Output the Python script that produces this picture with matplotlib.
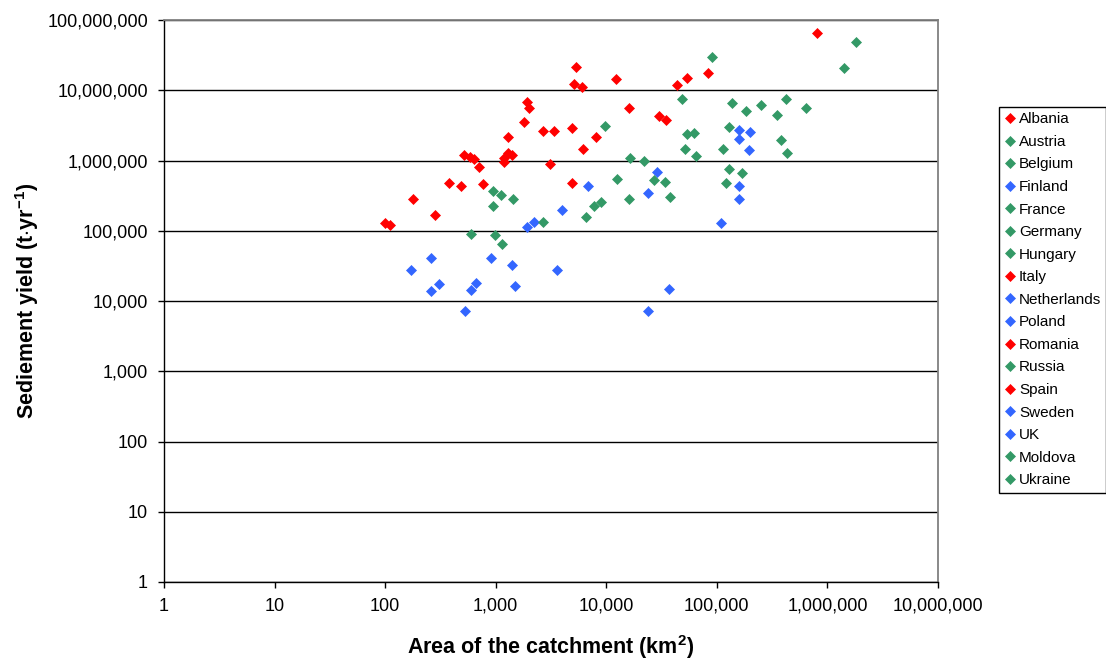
import numpy as np
import matplotlib
matplotlib.use('Agg')
import matplotlib.pyplot as plt
from matplotlib.ticker import FixedLocator, FuncFormatter, NullLocator

plt.rcParams['font.family'] = ['Liberation Sans', 'DejaVu Sans']
plt.rcParams['mathtext.fontset'] = 'custom'
plt.rcParams['mathtext.rm'] = 'Liberation Sans'
plt.rcParams['mathtext.bf'] = 'Liberation Sans:bold'

red = '#FF0000'
green = '#339966'
blue = '#3366FF'

# catchment area (km2) and sediment yield (t/yr) per country
albania_area = [5300, 5100, 6000, 12200, 1900, 2000, 1800]
albania_sy = [21.5e6, 12.3e6, 11.1e6, 14.3e6, 6.7e6, 5.5e6, 3.5e6]

austria_area = [1420, 940, 600, 990]
austria_sy = [280e3, 225e3, 89e3, 88e3]

belgium_area = [1140]
belgium_sy = [65e3]

finland_area = [4000, 2200, 1900, 3600]
finland_sy = [200e3, 133e3, 112e3, 28e3]

france_area = [7800, 9000, 6600, 2700, 940, 1120]
france_sy = [225e3, 255e3, 157e3, 135e3, 370e3, 320e3]

germany_area = [9700, 16400, 22000, 12400, 38000, 16000]
germany_sy = [3.1e6, 1.09e6, 975e3, 550e3, 300e3, 283e3]

hungary_area = [90000, 48000, 54000, 62000, 51000, 65000]
hungary_sy = [30e6, 7.5e6, 2.4e6, 2.45e6, 1.45e6, 1.16e6]

italy_area = [2700, 3400, 4900, 8000, 1300, 6100, 1290, 1400, 1200, 1180, 3100, 4850]
italy_sy = [2.65e6, 2.65e6, 2.9e6, 2.15e6, 2.15e6, 1.45e6, 1.28e6, 1.19e6, 1.07e6, 940e3, 890e3, 475e3]

netherlands_area = [1500, 530]
netherlands_sy = [16.2e3, 7.3e3]

poland_area = [160e3, 200e3, 160e3, 195e3, 160e3, 160e3, 109e3]
poland_sy = [2.7e6, 2.55e6, 2.0e6, 1.4e6, 440e3, 283e3, 130e3]

romania_area = [800e3, 84000, 54000, 44000, 35000, 30000, 16000]
romania_sy = [66e6, 17.4e6, 14.8e6, 11.9e6, 3.75e6, 4.3e6, 5.6e6]

russia_area = [1.8e6, 1.4e6, 640e3, 420e3, 350e3, 430e3, 380e3]
russia_sy = [49e6, 20.5e6, 5.65e6, 7.4e6, 4.45e6, 1.27e6, 1.95e6]

spain_area = [520, 590, 640, 700, 380, 490, 770, 180, 280, 100, 110]
spain_sy = [1.2e6, 1.13e6, 1.06e6, 820e3, 480e3, 435e3, 460e3, 280e3, 166e3, 128e3, 119e3]

sweden_area = [29000, 24000, 37000, 24000, 6800]
sweden_sy = [690e3, 350e3, 14.7e3, 7.3e3, 435e3]

uk_area = [260, 170, 910, 1400, 310, 260, 670, 600]
uk_sy = [41e3, 27.5e3, 41e3, 33e3, 17.6e3, 13.7e3, 18e3, 14.2e3]

moldova_area = [27000, 34000]
moldova_sy = [530e3, 500e3]

ukraine_area = [250e3, 182e3, 138e3, 130e3, 114e3, 170e3, 130e3, 120e3]
ukraine_sy = [6.1e6, 5.1e6, 6.65e6, 2.95e6, 1.47e6, 670e3, 765e3, 480e3]

series = [
    ('Albania', albania_area, albania_sy, red),
    ('Austria', austria_area, austria_sy, green),
    ('Belgium', belgium_area, belgium_sy, green),
    ('Finland', finland_area, finland_sy, blue),
    ('France', france_area, france_sy, green),
    ('Germany', germany_area, germany_sy, green),
    ('Hungary', hungary_area, hungary_sy, green),
    ('Italy', italy_area, italy_sy, red),
    ('Netherlands', netherlands_area, netherlands_sy, blue),
    ('Poland', poland_area, poland_sy, blue),
    ('Romania', romania_area, romania_sy, red),
    ('Russia', russia_area, russia_sy, green),
    ('Spain', spain_area, spain_sy, red),
    ('Sweden', sweden_area, sweden_sy, blue),
    ('UK', uk_area, uk_sy, blue),
    ('Moldova', moldova_area, moldova_sy, green),
    ('Ukraine', ukraine_area, ukraine_sy, green),
]

W, H = 1106, 659
fig = plt.figure(figsize=(W / 100, H / 100), dpi=100)
ax = fig.add_axes([164 / W, 1 - 582 / H, (938 - 164) / W, (582 - 20) / H])

for name, a, s, c in series:
    ax.plot(a, s, linestyle='none', marker='D', ms=4.8, mfc=c, mec=c, mew=0.5, label=name)

ax.set_xscale('log')
ax.set_yscale('log')
ax.set_xlim(1, 1e7)
ax.set_ylim(1, 1e8)

decx = [10.0 ** k for k in range(0, 8)]
decy = [10.0 ** k for k in range(0, 9)]
ax.xaxis.set_major_locator(FixedLocator(decx))
ax.yaxis.set_major_locator(FixedLocator(decy))
ax.xaxis.set_minor_locator(NullLocator())
ax.yaxis.set_minor_locator(NullLocator())
fmt = FuncFormatter(lambda v, p: f'{v:,.0f}')
ax.xaxis.set_major_formatter(fmt)
ax.yaxis.set_major_formatter(fmt)
ax.tick_params(axis='both', direction='out', length=4.5, width=1, color='black',
               labelsize=13, pad=7)

ax.yaxis.grid(True, color='black', lw=1)
ax.set_axisbelow(True)

for sp in ['left', 'bottom']:
    ax.spines[sp].set_color('black')
    ax.spines[sp].set_linewidth(1)
for sp in ['top', 'right']:
    ax.spines[sp].set_color('#808080')
    ax.spines[sp].set_linewidth(1.3)

ax.set_xlabel(r'Area of the catchment (km$^{\mathbf{2}}$)', fontsize=15.5, fontweight='bold')
ax.set_ylabel(r'Sediement yield (t$\cdot$yr$^{\mathbf{-1}}$)', fontsize=15.5, fontweight='bold')
ax.xaxis.set_label_coords(0.5, (582 - 633) / 562)
ax.yaxis.set_label_coords((41 - 164) / 774, 0.5)

leg = fig.legend(loc='upper left', bbox_to_anchor=(999 / W, 1 - 107 / H),
                 bbox_transform=fig.transFigure, borderaxespad=0, fontsize=11,
                 frameon=True, fancybox=False, edgecolor='black', framealpha=1,
                 handlelength=0.8, handletextpad=0.15, borderpad=0.35,
                 labelspacing=0.56, numpoints=1)
leg.get_frame().set_linewidth(1)

fig.savefig('out.png', dpi=100)
